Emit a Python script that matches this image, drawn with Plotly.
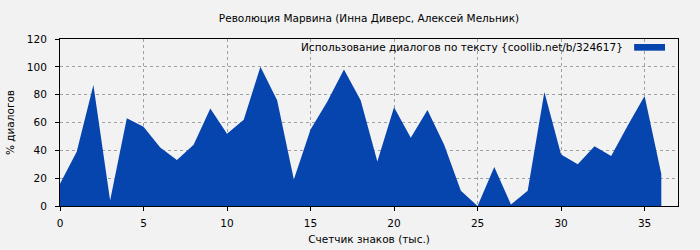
import plotly.graph_objects as go

x_vals = list(range(0, 37))
pct_dialog = [16, 39, 87, 4, 63, 57, 42, 33, 44, 70, 52, 62, 100, 76, 19, 55, 75, 98, 76, 32,
              71, 49, 69, 44, 11, 0, 28, 1, 11, 82, 37, 30, 43, 36, 58, 79, 23]

title_text = "Революция Марвина (Инна Диверс, Алексей Мельник)"
legend_text = "Использование диалогов по тексту {coollib.net/b/324617}"
x_title = "Счетчик знаков (тыс.)"
y_title = "% диалогов"
fill_color = "#0645AD"
bg = "#f2f2f2"
fs = 10.5

fig = go.Figure()
fig.add_trace(go.Scatter(
    x=x_vals, y=pct_dialog, mode="lines", fill="tozeroy",
    line=dict(width=0, color=fill_color), fillcolor=fill_color,
    showlegend=False, hoverinfo="x+y"))

fig.add_annotation(xref="paper", yref="paper", x=0.914, y=0.952, xanchor="right", yanchor="middle",
                   text=legend_text, showarrow=False,
                   font=dict(family="DejaVu Sans", size=fs, color="#000"))
fig.add_shape(type="rect", xref="paper", yref="paper", x0=0.929, x1=0.979, y0=0.93, y1=0.97,
              fillcolor=fill_color, line=dict(width=0))

axis_common = dict(showline=True, linecolor="#000", linewidth=1, mirror=True,
                   ticks="outside", ticklen=4, tickcolor="#000", automargin=False,
                   showgrid=True, gridcolor="#a0a0a0", griddash="dot", gridwidth=1,
                   zeroline=False, tickfont=dict(family="DejaVu Sans", size=fs, color="#000"))

fig.update_layout(
    width=700, height=250,
    margin=dict(l=60, r=22, t=39, b=44),
    paper_bgcolor=bg, plot_bgcolor=bg,
    font=dict(family="DejaVu Sans", size=fs, color="#000"),
    title=dict(text=title_text, xref="paper", x=0.5, xanchor="center", y=0.928, yanchor="middle",
               font=dict(family="DejaVu Sans", size=fs, color="#000")),
    xaxis=dict(range=[0, 37], tickvals=[0, 5, 10, 15, 20, 25, 30, 35], ticklabelstandoff=3,
               title=dict(text=x_title, standoff=8, font=dict(size=fs)), **axis_common),
    yaxis=dict(range=[0, 120], tickvals=[0, 20, 40, 60, 80, 100, 120], ticklabelstandoff=6,
               title=dict(text=y_title, standoff=10, font=dict(size=fs)), **axis_common),
)

fig.write_html("out.html")
